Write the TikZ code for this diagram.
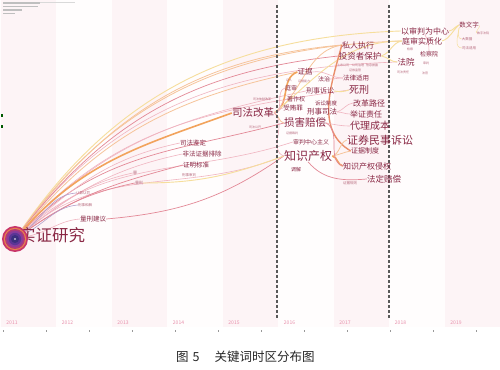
\documentclass[tikz,border=0pt]{standalone}
\usepackage{fontspec}
\setmainfont{Noto Sans CJK SC}
\definecolor{kwred}{HTML}{8A2845}
\definecolor{kwpale}{HTML}{B5667A}
\definecolor{band}{HTML}{FDF4F6}
\definecolor{bgc}{HTML}{FFFDFD}
\definecolor{eorange}{HTML}{F2A35C}
\definecolor{eorangel}{HTML}{F6C49A}
\definecolor{epink}{HTML}{F0B4C0}
\definecolor{ered}{HTML}{E38896}
\definecolor{eyellow}{HTML}{F6DE9C}
\definecolor{epurple}{HTML}{B4A0CC}
\definecolor{estrong}{HTML}{EA8F6C}
\definecolor{yearc}{HTML}{E890AC}
\definecolor{ringa}{HTML}{C8356A}
\definecolor{ringb}{HTML}{E9824A}
\definecolor{ringc}{HTML}{B03A78}
\definecolor{ringd}{HTML}{8A3C9C}
\definecolor{ringe}{HTML}{5B3596}
\definecolor{ringf}{HTML}{3B2F7E}
\pgfdeclarelayer{bands}
\pgfdeclarelayer{edges}
\pgfsetlayers{bands,edges,main}
\begin{document}
\begin{tikzpicture}[x=1pt,y=1pt,
 kw/.style={inner sep=0pt,text=kwred,font=\fontsize{#1}{#1}\selectfont},
 sm/.style={inner sep=0pt,text=kwpale,font=\fontsize{#1}{#1}\selectfont},
 yr/.style={inner sep=0pt,text=yearc,font=\fontsize{5}{5}\selectfont},
 e1/.style={draw=eorange,line width=1.6pt},
 e2/.style={draw=eorangel,line width=0.8pt},
 e3/.style={draw=epink,line width=0.6pt},
 e4/.style={draw=ered,line width=0.7pt},
 e5/.style={draw=eyellow,line width=0.9pt},
 e6/.style={draw=epurple,line width=0.6pt},
 es/.style={draw=estrong,line width=1.4pt},
 dl/.style={draw=black!65,line width=1.3pt,dash pattern=on 3pt off 2pt}
]
\useasboundingbox (0,0) rectangle (500,369);
\begin{pgfonlayer}{bands}
\fill[white] (0,0) rectangle (500,369);
\fill[bgc] (0,42) rectangle (500,369);
\foreach \k in {0,2,4,6,8}
  \fill[band] ({0.5+55.5*\k},42) rectangle ({56+55.5*\k},369);
\end{pgfonlayer}

% top-left blurred legend text and left-edge marks
\draw[black!25,line width=1.5pt] (3,366) -- (40,366);
\draw[black!15,line width=1pt] (40,366) -- (75,366);
\draw[black!25,line width=1.5pt] (3,362.5) -- (38,362.5);
\draw[black!25,line width=1.5pt] (3,359) -- (22,359);
\draw[black!25,line width=1.5pt] (3,355.5) -- (15,355.5);
\fill[green!35!black] (1,252) rectangle (2.5,255);
\fill[green!35!black] (1,241) rectangle (2.5,244);

% year labels and ticks
\foreach \yy/\xx in {2011/12,2012/67.5,2013/123,2014/178.5,2015/234,2016/289.5,2017/345,2018/400.5,2019/456}
  \node[yr] (y\yy) at (\xx,46) {\yy};
\foreach \xx in {3,46,89,132,175,218,261,304,347,390,433,476}
  \draw[black!40,line width=0.4pt] (\xx,37) -- (\xx,39);

% dashed separators
\draw[dl] (277,364) -- (277,51);
\draw[dl] (389,364) -- (389,51);

% caption
\node[anchor=west,inner sep=0pt,text=black!85,font=\fontsize{12.5}{12.5}\selectfont] (cap) at (176,12) {图\hspace{4pt}5\hspace{15pt}关键词时区分布图};

% keyword nodes
\node[kw=16.5,anchor=west] (szt) at (19,134) {实证研究};
\node[circle,fill=ringa,minimum size=26pt,inner sep=0pt] (sz) at (15,130) {};
\fill[ringb] (sz.center) circle (11.2);
\fill[ringc] (sz.center) circle (10);
\fill[ringd] (sz.center) circle (8.2);
\fill[ringe] (sz.center) circle (6.2);
\fill[ringf] (sz.center) circle (4);
\fill[white] (sz.center) circle (0.8);

\node[kw=10.5] (sfgg) at (253,256) {司法改革};
\node[kw=8] (srzx) at (358,324) {私人执行};
\node[kw=8.5] (tzzb) at (360,313) {投资者保护};
\node[kw=8] (yspw) at (425,338) {以审判为中心};
\node[kw=8] (tssz) at (422,328) {庭审实质化};
\node[kw=8.5] (fy) at (406,307) {法院};
\node[kw=6] (jcy) at (429,315) {检察院};
\node[kw=6.5] (swz) at (469,344) {数文字};
\node[sm=3.5] (dsj) at (467,330) {大数据};
\node[sm=3.5] (sfsy) at (469,321) {司法适用};
\node[sm=3] (szfy) at (483,336) {数字法院};
\node[kw=7.5] (zj) at (305,297) {证据};
\node[kw=6] (fz) at (324,290) {法治};
\node[kw=6] (ts) at (291,281) {庭审};
\node[kw=7] (xsss) at (320,278) {刑事诉讼};
\node[kw=6] (zzq) at (296,270) {著作权};
\node[kw=5.5] (sszd) at (326,266) {诉讼制度};
\node[kw=6.5] (shz) at (293,261) {受贿罪};
\node[kw=7.5] (xssf) at (322,257) {刑事司法};
\node[kw=10.5] (shpc) at (305,246) {损害赔偿};
\node[kw=6] (spzx) at (311,227) {审判中心主义};
\node[kw=12] (zscq) at (308,213) {知识产权};
\node[kw=5] (tj) at (296,199) {调解};
\node[kw=6.5] (flsy) at (356,291) {法律适用};
\node[kw=10] (sx) at (359,279) {死刑};
\node[kw=8] (gglj) at (369,266) {改革路径};
\node[kw=8] (jzzr) at (366,255) {举证责任};
\node[kw=10] (dlcb) at (370,243) {代理成本};
\node[kw=11] (zqms) at (380,229) {证券民事诉讼};
\node[kw=7] (zjzd) at (365,218) {证据制度};
\node[kw=8] (zqqq) at (367,203) {知识产权侵权};
\node[kw=8.5] (fdpc) at (384,190) {法定赔偿};
\node[sm=3.5] (zjgz) at (350,186) {证据规则};
\node[kw=6.5] (sfjd) at (193,226) {司法鉴定};
\node[kw=6.5] (ffzj) at (202,215) {非法证据排除};
\node[kw=6.5] (zmbz) at (196,204) {证明标准};
\node[sm=3.5] (xssp) at (189,194) {刑事审判};
\node[kw=6.5] (lxjy) at (93,150) {量刑建议};
\node[sm=3.5] (xshj) at (85,164) {刑事和解};
\node[sm=3.5] (rzrf) at (83,176) {认罪认罚};
\node[sm=4] (zui) at (135,196) {罪};
\node[sm=4] (lx) at (139,186) {量刑};
\node[sm=3] (sftz) at (262,270) {司法体制改革};
\node[sm=3] (sfgk) at (255,242) {司法公开};
\node[sm=3] (ssgs) at (343,304) {上市公司};
\node[sm=3] (gszl) at (358,304) {公司治理};
\node[sm=3] (xxpl) at (372,304) {信息披露};
\node[sm=3] (zqjg) at (355,299) {证券监管};
\node[sm=3] (zr) at (289,289) {证人};
\node[sm=3] (zjnl) at (304,288) {证据能力};
\node[sm=3] (jc) at (410,320) {检察};
\node[sm=3] (sp) at (426,306) {审判};
\node[sm=3] (sfz) at (403,297) {司法责任};
\node[sm=3] (fg) at (425,296) {法官};
\node[sm=3] (zjcp) at (292,236) {证据裁判};

\begin{pgfonlayer}{edges}
% from the large node
\draw[e3] (sz) to[out=52,in=182] (fy.west);
\draw[e5] (sz) to[out=55,in=182] (yspw.west);
\draw[e2] (sz) to[out=54,in=182] (tssz.west);
\draw[e2] (sz) to[out=53,in=185] (srzx.west);
\draw[e4] (sz) to[out=52,in=186] (tzzb.west);
\draw[e2] (sz) to[out=50,in=192] (zj.west);
\draw[e3] (sz) to[out=48,in=188] (sx.west);
\draw[e3] (sz) to[out=47,in=192] (xsss.west);
\draw[e4] (sz) to[out=45,in=195] (shpc.west);
\draw[e3] (sz) to[out=42,in=198] (spzx.west);
\draw[e3] (sz) to[out=40,in=202] (zscq.west);
\draw[e1] (sz) to[out=48,in=200] (sfgg.west);
\draw[e3] (sz) to[out=42,in=192] (sfjd.west);
\draw[e3] (sz) to[out=38,in=192] (ffzj.west);
\draw[e4] (sz) to[out=35,in=195] (zmbz.west);
\draw[e3] (sz) to[out=38,in=192] (zui.west);
\draw[e4] (sz) to[out=35,in=192] (lx.west);
\draw[e6] (sz) to[out=38,in=185] (rzrf.west);
\draw[e6] (sz) to[out=28,in=185] (xshj.west);
\draw[e3] (sz) to[out=12,in=185] (lxjy.west);
\draw[e4] (lxjy.east) to[out=5,in=215] (zscq.west);
\draw[e5] (lx.east) to[out=0,in=200] (zscq.west);
% from 司法改革
\draw[e1] (sfgg.east) to[out=25,in=200] (zj.west);
\draw[e2] (sfgg.east) to[out=35,in=190] (srzx.west);
\draw[e5] (sfgg.east) to[out=40,in=180] (tssz.west);
\draw[e3] (sfgg.east) to[out=10,in=200] (ts.west);
\draw[e3] (sfgg.east) to[out=5,in=190] (zzq.west);
\draw[e3] (sfgg.east) to[out=-5,in=180] (shz.west);
\draw[e2] (sfgg.east) to[out=-20,in=170] (shpc.west);
\draw[e3] (sfgg.east) to[out=-40,in=160] (zscq.west);
% 2016-2017 cluster
\draw[es] (srzx.west) to[out=255,in=150] (zjzd.west);
\draw[e2] (zscq.east) to[out=10,in=190] (zjzd.west);
\draw[e1] (zscq.east) to[out=-10,in=170] (zqqq.west);
\draw[e2] (zscq.east) to[out=15,in=200] (zqms.west);
\draw[e4] (zscq.south) to[out=-50,in=185] (fdpc.west);
\draw[e3] (shpc.east) to[out=-10,in=180] (dlcb.west);
\draw[e4] (shpc.east) to[out=-30,in=160] (zqqq.west);
\draw[e3] (xssf.east) to[out=20,in=190] (gglj.west);
\draw[e3] (xssf.east) to[out=0,in=180] (jzzr.west);
\draw[e5] (xsss.east) to[out=-10,in=200] (sx.west);
\draw[e3] (fz.east) to[out=0,in=180] (flsy.west);
\draw[e3] (zj.east) to[out=10,in=180] (flsy.west);
\draw[e5] (tzzb.east) to[out=-10,in=180] (fy.west);
\draw[e5] (tzzb.east) to[out=20,in=190] (tssz.west);
% 2018-2019
\draw[e3] (yspw.south) to[out=-60,in=90] (jcy.north);
\draw[e5] (tssz.east) to[out=20,in=220] (swz.west);
\draw[e5] (yspw.east) to[out=10,in=200] (swz.west);
\draw[e5,line width=0.5pt] (swz.south west) to[out=-100,in=180] (dsj.west);
\draw[e5,line width=0.5pt] (swz.south west) to[out=-100,in=180] (sfsy.west);
\draw[e5,line width=0.4pt] (swz.east) to[out=-20,in=180] (szfy.west);
\end{pgfonlayer}
\end{tikzpicture}
\end{document}
